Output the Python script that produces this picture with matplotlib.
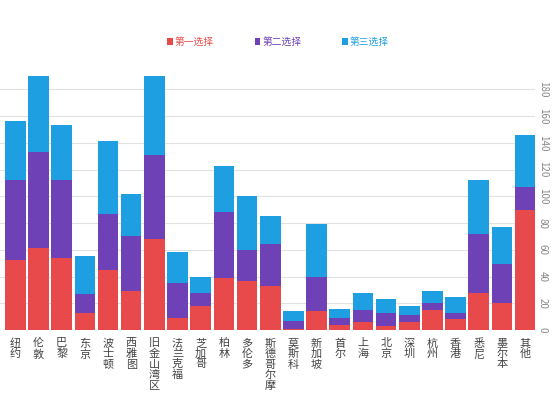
import numpy as np
import matplotlib
matplotlib.use("Agg")
import matplotlib.pyplot as plt

plt.rcParams['font.family'] = ['Noto Sans CJK SC', 'DejaVu Sans']

# 城市与三个选择的人数
cities = ["纽约", "伦敦", "巴黎", "东京", "波士顿", "西雅图", "旧金山湾区", "法兰克福",
          "芝加哥", "柏林", "多伦多", "斯德哥尔摩", "莫斯科", "新加坡", "首尔", "上海",
          "北京", "深圳", "杭州", "香港", "悉尼", "墨尔本", "其他"]
first = [52, 61, 54, 13, 45, 29, 68, 9, 18, 39, 37, 33, 1, 14, 4, 6, 3, 6, 15, 8, 28, 20, 90]
second = [60, 72, 58, 14, 42, 41, 63, 26, 10, 49, 23, 31, 6, 26, 5, 9, 10, 5, 5, 5, 44, 29, 17]
third = [44, 57, 41, 28, 54, 32, 59, 23, 12, 35, 40, 21, 7, 39, 7, 13, 10, 7, 9, 12, 40, 28, 39]
labels = ["第一选择", "第二选择", "第三选择"]
colors = ["#E84A4B", "#6E41B6", "#1E9FE2"]
yticks = [0, 20, 40, 60, 80, 100, 120, 140, 160, 180]

fig = plt.figure(figsize=(5.56, 3.98), dpi=100)
ax = fig.add_axes([0.0, 0.1709, 0.962, 0.645])

x = np.arange(len(cities))
f = np.array(first)
s = np.array(second)
t = np.array(third)
ax.bar(x, f, width=0.89, color=colors[0], label=labels[0])
ax.bar(x, s, width=0.89, bottom=f, color=colors[1], label=labels[1])
ax.bar(x, t, width=0.89, bottom=f + s, color=colors[2], label=labels[2])

ax.set_xlim(-0.66, 22.42)
ax.set_ylim(0, 192)
ax.set_yticks(yticks)
ax.yaxis.tick_right()
ax.tick_params(axis='y', length=0, pad=2, labelsize=7, labelcolor="#888888")
for lbl in ax.get_yticklabels():
    lbl.set_rotation(-90)
    lbl.set_va('center')
ax.grid(axis='y', color="#e2e2e2", linewidth=0.8)
ax.set_axisbelow(True)
for sp in ax.spines.values():
    sp.set_visible(False)

ax.set_xticks(x)
ax.set_xticklabels(["\n".join(c) for c in cities], fontsize=8, color="#444444",
                   linespacing=1.05, va='top')
ax.tick_params(axis='x', length=0, pad=6)

fig.legend(loc='center', bbox_to_anchor=(0.5, 1 - 42 / 398), ncol=3, frameon=False,
           fontsize=7, labelcolor=colors, handlelength=0.6, handleheight=0.6,
           handletextpad=0.2, columnspacing=4.2)

fig.savefig("out.png", dpi=100)
